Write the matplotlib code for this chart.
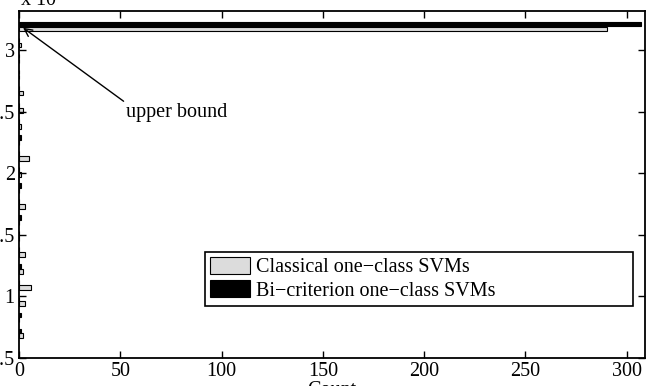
import matplotlib
matplotlib.use("Agg")
import matplotlib.pyplot as plt
import numpy as np

# histogram bins (value x 10^4) and counts per method
bin_centers = [0.70, 0.83, 0.96, 1.09, 1.22, 1.36, 1.49, 1.62, 1.75, 1.88,
               2.01, 2.14, 2.27, 2.40, 2.53, 2.67, 2.80, 2.93, 3.06, 3.19]
classical_counts = [2, 0, 3, 6, 2, 3, 0, 0, 3, 0,
                    1, 5, 0, 1, 2, 2, 0, 0, 1, 290]
bicriterion_counts = [1, 1, 0, 0, 1, 0, 0, 1, 0, 1,
                      0, 0, 1, 0, 0, 0, 0, 0, 0, 307]
series_labels = ["Classical one\u2212class SVMs", "Bi\u2212criterion one\u2212class SVMs"]
x_ticks = [0, 50, 100, 150, 200, 250, 300]
y_ticks = [0.5, 1, 1.5, 2, 2.5, 3]
y_tick_labels = ["0.5", "1", "1.5", "2", "2.5", "3"]

plt.rcParams['font.family'] = ['Liberation Serif', 'DejaVu Serif']
plt.rcParams['font.size'] = 14.5

fig = plt.figure(figsize=(6.48, 3.86), dpi=100)
ax = fig.add_axes([19 / 648, 28 / 386, 626 / 648, 347.5 / 386])

pos = np.array(bin_centers)
h = 0.038
ax.barh(pos - 0.02, classical_counts, height=h, color='#dcdcdc',
        edgecolor='k', linewidth=0.8, label=series_labels[0])
ax.barh(pos + 0.02, bicriterion_counts, height=h, color='k',
        edgecolor='k', linewidth=0.8, label=series_labels[1])

ax.set_xlim(0, 309)
ax.set_ylim(0.5, 3.32)
ax.set_xticks(x_ticks)
ax.set_yticks(y_ticks)
ax.set_yticklabels(y_tick_labels)
ax.tick_params(direction='in', length=5, width=1, top=True, right=True, pad=3)
for s in ax.spines.values():
    s.set_linewidth(1.3)
ax.set_xlabel('Count', labelpad=0)

# arrow to the upper bound bin
ax.annotate('upper bound', xy=(2, 3.18), xytext=(53, 2.49),
            ha='left', va='center',
            arrowprops=dict(arrowstyle='->', lw=1, color='k',
                            shrinkA=0, shrinkB=0, relpos=(0, 1),
                            mutation_scale=14))

leg = ax.legend(loc='upper left', bbox_to_anchor=(0.297, 0.153, 0.684, 0.152),
                mode='expand', borderaxespad=0, fancybox=False,
                edgecolor='k', framealpha=1, handlelength=2.0,
                handleheight=0.9, labelspacing=0.15, handletextpad=0.3,
                borderpad=0.25)
leg.get_frame().set_linewidth(1.2)

fig.text(20 / 648, 1 - 6 / 386, r'x 10$^4$', ha='left', va='baseline')

fig.savefig('out.png', dpi=100)
